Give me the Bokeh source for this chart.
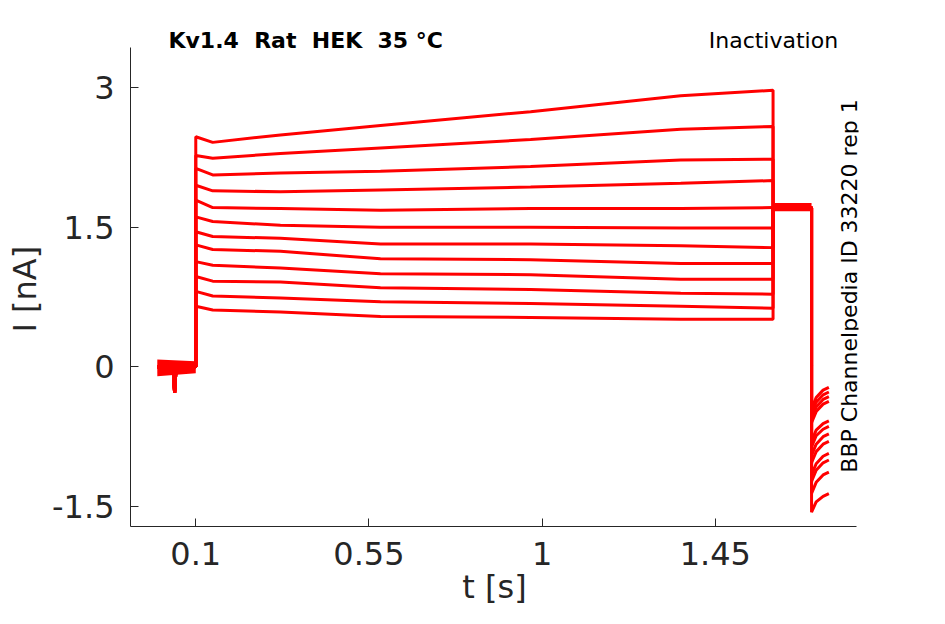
import math
from bokeh.plotting import figure
from bokeh.models import Range1d, Label, FixedTicker, Title
from bokeh.embed import file_html
from bokeh.resources import INLINE

# ---- data (time in s, current in nA) ----
t_base = [0.0, 0.041, 0.045, 0.049, 0.1]
i_base = [0.0, 0.0, -0.28, 0.0, 0.0]

t_step = [0.1, 0.144, 0.32, 0.58, 0.97, 1.36, 1.6]
step_vals = [
    [2.47, 2.41, 2.49, 2.59, 2.74, 2.91, 2.97],
    [2.27, 2.24, 2.29, 2.35, 2.44, 2.55, 2.58],
    [2.13, 2.06, 2.08, 2.10, 2.15, 2.22, 2.23],
    [1.95, 1.89, 1.88, 1.90, 1.93, 1.97, 2.00],
    [1.79, 1.71, 1.70, 1.68, 1.70, 1.70, 1.71],
    [1.61, 1.56, 1.52, 1.50, 1.50, 1.49, 1.49],
    [1.45, 1.40, 1.38, 1.32, 1.32, 1.30, 1.28],
    [1.31, 1.26, 1.24, 1.16, 1.15, 1.11, 1.11],
    [1.13, 1.09, 1.06, 1.00, 0.99, 0.94, 0.94],
    [0.97, 0.92, 0.91, 0.85, 0.83, 0.79, 0.78],
    [0.81, 0.76, 0.74, 0.70, 0.68, 0.65, 0.63],
    [0.65, 0.61, 0.59, 0.54, 0.53, 0.51, 0.51],
]

t_test = [1.6, 1.7]
i_test = [1.71, 1.71]

t_tail = [1.7, 1.712, 1.73, 1.745]
tail_vals = [
    [-0.45, -0.33, -0.25, -0.22],
    [-0.50, -0.38, -0.30, -0.27],
    [-0.55, -0.43, -0.35, -0.32],
    [-0.60, -0.48, -0.40, -0.37],
    [-0.80, -0.68, -0.61, -0.58],
    [-0.86, -0.74, -0.67, -0.64],
    [-0.95, -0.83, -0.75, -0.72],
    [-1.03, -0.91, -0.83, -0.80],
    [-1.16, -1.04, -0.96, -0.93],
    [-1.23, -1.11, -1.03, -1.00],
    [-1.36, -1.24, -1.16, -1.13],
    [-1.56, -1.45, -1.39, -1.36],
]

# noise envelopes where the 12 sweeps overlap
band_base_t = [0.0, 0.1]
band_base_lo = [-0.10, -0.07]
band_base_hi = [0.08, 0.06]
band_test_t = [1.6, 1.7]
band_test_lo = [1.67, 1.67]
band_test_hi = [1.76, 1.76]

x_ticks = [0.1, 0.55, 1, 1.45]
x_tick_labels = ["0.1", "0.55", "1", "1.45"]
y_ticks = [-1.5, 0, 1.5, 3]
y_tick_labels = ["-1.5", "0", "1.5", "3"]

title_text = "Kv1.4 \u00a0Rat \u00a0HEK \u00a035 °C"
protocol_text = "Inactivation"
id_text = "BBP Channelpedia ID 33220 rep 1"

RED = "#ff0000"
AX = "#262626"
FONT = "DejaVu Sans"

X_AXIS = (-0.0696, 1.816)
Y_AXIS = (-1.714, 3.429)

p = figure(width=929, height=608, output_backend="svg", toolbar_location=None,
           x_range=Range1d(X_AXIS[0], 1.822), y_range=Range1d(Y_AXIS[0], 3.654),
           min_border_left=130, min_border_right=71, min_border_top=26, min_border_bottom=81)
p.outline_line_color = None
p.grid.visible = False
p.background_fill_color = "white"
p.border_fill_color = "white"

p.varea(x=band_base_t, y1=band_base_lo, y2=band_base_hi, fill_color=RED)
p.varea(x=band_test_t, y1=band_test_lo, y2=band_test_hi, fill_color=RED)

for k in range(len(step_vals)):
    xs = t_base + t_step + t_test + t_tail
    ys = i_base + step_vals[k] + i_test + tail_vals[k]
    p.line(xs, ys, line_color=RED, line_width=3)

for ax, ticks, labels, bnds in ((p.xaxis[0], x_ticks, x_tick_labels, X_AXIS),
                                (p.yaxis[0], y_ticks, y_tick_labels, Y_AXIS)):
    ax.ticker = FixedTicker(ticks=ticks)
    ax.major_label_overrides = {t: l for t, l in zip(ticks, labels)}
    ax.bounds = bnds
    ax.minor_tick_line_color = None
    ax.major_tick_in = 8
    ax.major_tick_out = 0
    ax.axis_line_color = AX
    ax.major_tick_line_color = AX
    ax.major_label_text_color = AX
    ax.major_label_text_font = FONT
    ax.major_label_text_font_size = "32px"
    ax.axis_label_text_font = FONT
    ax.axis_label_text_font_size = "32px"
    ax.axis_label_text_font_style = "normal"
    ax.axis_label_text_color = AX

p.xaxis.axis_label = "t [s]"
p.xaxis.major_label_standoff = 15
p.xaxis.axis_label_standoff = 0
p.yaxis.major_label_standoff = 16

p.add_layout(Title(text="I [nA]", align="left", offset=194, vertical_align="top",
                   standoff=8, text_font=FONT, text_font_size="32px",
                   text_font_style="normal", text_color=AX), "left")

p.add_layout(Label(x=0.029, y=3.507, text=title_text, text_font=FONT, text_font_size="22px",
                   text_font_style="bold", text_color="black", text_align="left",
                   text_baseline="alphabetic"))
p.add_layout(Label(x=1.769, y=3.507, text=protocol_text, text_font=FONT, text_font_size="22px",
                   text_color="black", text_align="right", text_baseline="alphabetic"))
p.add_layout(Label(x=1.798, y=0.868, text=id_text, text_font=FONT, text_font_size="22px",
                   text_color="black", text_align="center", text_baseline="middle",
                   angle=math.pi / 2))

open("out.html", "w").write(file_html(p, INLINE))
